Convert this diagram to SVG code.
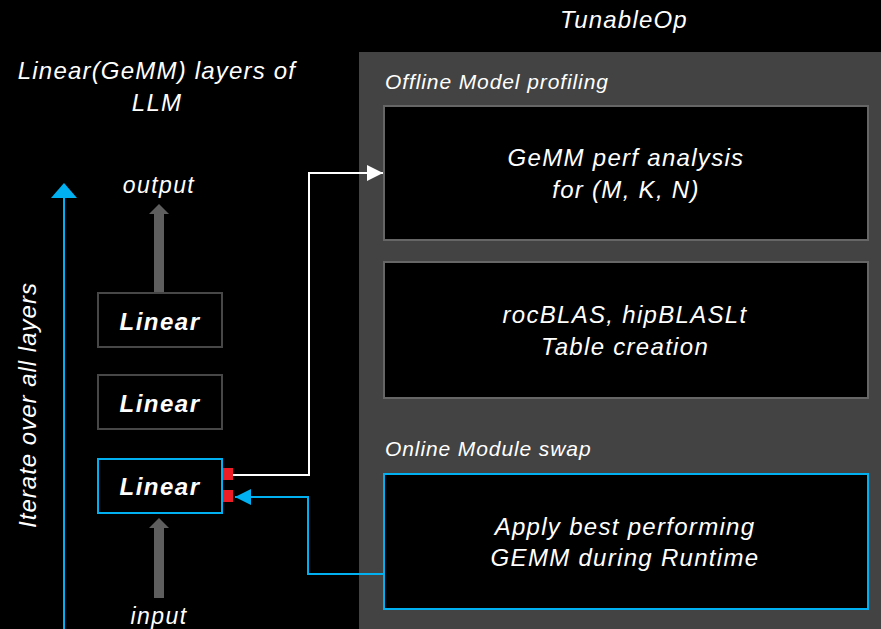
<svg xmlns="http://www.w3.org/2000/svg" width="881" height="629" viewBox="0 0 881 629">
  <style>
    text { font-family: "Liberation Sans", Arial, sans-serif; font-style: italic; fill: #ffffff; }
    .title { font-size: 24px; letter-spacing: 1.2px; }
    .sect { font-size: 21px; letter-spacing: 0.9px; }
    .body { font-size: 24px; letter-spacing: 1.3px; text-anchor: middle; }
    .lin { font-size: 24px; font-weight: bold; letter-spacing: 1.5px; text-anchor: middle; }
    .io { font-size: 23px; letter-spacing: 1.4px; text-anchor: middle; }
    .layer { fill: #000000; stroke: #474747; stroke-width: 2; }
    .layer-active { fill: #000000; stroke: #00b0f0; stroke-width: 2; }
    .step { fill: #000000; stroke: #666666; stroke-width: 2; }
    .step-active { fill: #000000; stroke: #00b0f0; stroke-width: 2; }
    .port { fill: #ee1c25; }
    .flow { fill: #5e5e5e; }
  </style>
  <defs>
    <marker id="headWhite" markerWidth="16" markerHeight="16" refX="16" refY="8" orient="auto" markerUnits="userSpaceOnUse">
      <path d="M0,0 L16,8 L0,16 Z" fill="#ffffff"/>
    </marker>
    <marker id="headBlue" markerWidth="16" markerHeight="16" refX="16" refY="8" orient="auto" markerUnits="userSpaceOnUse">
      <path d="M0,0 L16,8 L0,16 Z" fill="#00b0f0"/>
    </marker>
  </defs>

  <!-- background -->
  <rect x="0" y="0" width="881" height="629" fill="#000000"/>

  <!-- TunableOp panel -->
  <g id="tunableop-panel">
    <rect x="359" y="52" width="522" height="577" fill="#434343"/>
    <text class="title" x="624" y="28" text-anchor="middle">TunableOp</text>
    <text class="sect" x="385" y="89">Offline Model profiling</text>
    <text class="sect" x="385" y="456">Online Module swap</text>
  </g>

  <!-- left column heading -->
  <g id="llm-heading">
    <text class="title" x="157" y="79" text-anchor="middle">Linear(GeMM) layers of</text>
    <text class="title" x="157" y="111" text-anchor="middle">LLM</text>
  </g>

  <!-- iteration axis -->
  <g id="iterate">
    <line x1="64" y1="629" x2="64" y2="196" stroke="#00b0f0" stroke-width="2"/>
    <path d="M51,198 L64,183 L77,198 Z" fill="#00b0f0"/>
    <text class="title" transform="translate(36,405) rotate(-90)" text-anchor="middle" style="letter-spacing:1px">Iterate over all layers</text>
  </g>

  <!-- data flow through layers -->
  <g id="output-flow">
    <rect class="flow" x="154" y="212" width="10" height="81"/>
    <path class="flow" d="M149,214 L159,204 L169,214 Z"/>
    <text class="io" x="159" y="193">output</text>
  </g>
  <g id="input-flow">
    <rect class="flow" x="154" y="526" width="10" height="72"/>
    <path class="flow" d="M149,528 L159,518 L169,528 Z"/>
    <text class="io" x="159" y="624">input</text>
  </g>

  <!-- linear layers -->
  <g id="linear-3">
    <rect class="layer" x="98" y="293" width="124" height="54"/>
    <text class="lin" x="160" y="330">Linear</text>
  </g>
  <g id="linear-2">
    <rect class="layer" x="98" y="375" width="124" height="54"/>
    <text class="lin" x="160" y="412">Linear</text>
  </g>
  <g id="linear-1">
    <rect class="layer-active" x="98" y="459" width="124" height="54"/>
    <text class="lin" x="160" y="495">Linear</text>
    <rect class="port" x="223" y="468" width="10" height="12"/>
    <rect class="port" x="223" y="490" width="10" height="12"/>
  </g>

  <!-- offline / online steps -->
  <g id="gemm-analysis">
    <rect class="step" x="384" y="106" width="484" height="134"/>
    <text class="body" x="626" y="166">GeMM perf analysis</text>
    <text class="body" x="626" y="198">for (M, K, N)</text>
  </g>
  <g id="table-creation">
    <rect class="step" x="384" y="262" width="484" height="136"/>
    <text class="body" x="625" y="323">rocBLAS, hipBLASLt</text>
    <text class="body" x="625" y="355">Table creation</text>
  </g>
  <g id="module-swap">
    <rect class="step-active" x="384" y="474" width="484" height="135"/>
    <text class="body" x="625" y="535">Apply best performing</text>
    <text class="body" x="625" y="566">GEMM during Runtime</text>
  </g>

  <!-- connectors -->
  <g id="connectors" fill="none" stroke-width="2">
    <polyline points="233,475 309,475 309,173 383,173" stroke="#ffffff" marker-end="url(#headWhite)"/>
    <polyline points="383,574 308,574 308,497 235,497" stroke="#00b0f0" marker-end="url(#headBlue)"/>
  </g>
</svg>
